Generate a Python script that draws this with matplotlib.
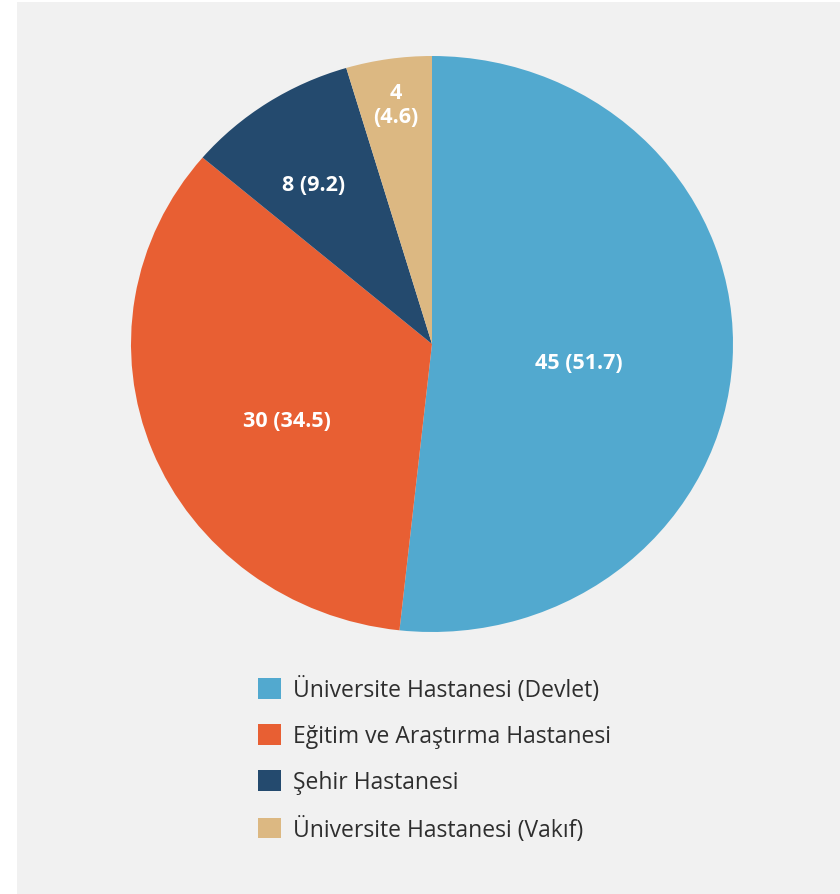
import matplotlib.pyplot as plt
from matplotlib.patches import Rectangle
import numpy as np

plt.rcParams['font.family'] = ['Open Sans', 'DejaVu Sans']

categories = ['Üniversite Hastanesi (Devlet)', 'Eğitim ve Araştırma Hastanesi',
              'Şehir Hastanesi', 'Üniversite Hastanesi (Vakıf)']
counts = [45, 30, 8, 4]
percents = [51.7, 34.5, 9.2, 4.6]
colors = ['#52a9cf', '#e85f33', '#244a6e', '#dcb882']

W, H = 840, 895
fig = plt.figure(figsize=(W / 100, H / 100), dpi=100, facecolor='white')
# gray panel behind everything
fig.patches.append(Rectangle((17 / W, 0), 1 - 17 / W, 1 - 3 / H, transform=fig.transFigure,
                             facecolor='#f1f1f1', edgecolor='none', zorder=-10))

ax = fig.add_axes([131 / W, 1 - 633 / H, 602 / W, 576 / H])
ax.set_facecolor('none')
wedges, _ = ax.pie(counts, colors=colors, startangle=90, counterclock=False,
                   wedgeprops=dict(linewidth=0))
ax.set_aspect('auto')
ax.set_xlim(-1, 1)
ax.set_ylim(-1, 1)
ax.axis('off')

# label radius per slice + small nudges (data units)
radii = [0.5, 0.52, 0.66, 0.83]
nudge = [(-0.01, -0.038), (0.0, -0.073), (-0.033, 0.0), (0.0, 0.01)]
for w, n, p, r, (dx, dy) in zip(wedges, counts, percents, radii, nudge):
    mid = np.deg2rad((w.theta1 + w.theta2) / 2)
    if n == 4:
        txt = '%d\n(%.1f)' % (n, p)
    else:
        txt = '%d (%.1f)' % (n, p)
    ax.text(r * np.cos(mid) + dx, r * np.sin(mid) + dy, txt, ha='center', va='center',
            color='white', fontsize=15.5, fontweight='bold', linespacing=1.15)

leg = fig.legend(wedges, categories, loc='upper left',
                 bbox_to_anchor=(247 / W, 1 - 666 / H), frameon=False,
                 prop=dict(size=16.5), handlelength=1.0, handleheight=1.0,
                 labelspacing=0.95, handletextpad=0.5, borderpad=0)
for t in leg.get_texts():
    t.set_color('#2e2e2e')

fig.savefig('out.png', dpi=100, facecolor=fig.get_facecolor())
